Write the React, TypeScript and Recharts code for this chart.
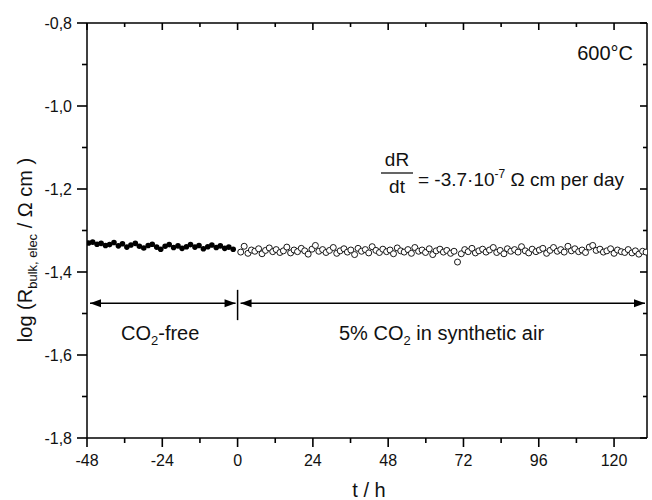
import React from "react";
import { ScatterChart, Scatter, XAxis, YAxis, ReferenceLine } from "recharts";

// CO2-free period (filled dots)
const freeTime = [
  -47.5, -46.2, -44.8, -43.5, -42.1, -40.8, -39.4, -38.0, -36.7, -35.3, -34.0, -32.6,
  -31.3, -29.9, -28.5, -27.2, -25.8, -24.5, -23.1, -21.8, -20.4, -19.0, -17.7, -16.3,
  -15.0, -13.6, -12.3, -10.9, -9.5, -8.2, -6.8, -5.5, -4.1, -2.8, -1.4,
];
const freeLogR = [
  -1.330, -1.328, -1.333, -1.331, -1.336, -1.334, -1.329, -1.337, -1.332, -1.340, -1.335, -1.331,
  -1.338, -1.342, -1.336, -1.333, -1.340, -1.345, -1.338, -1.334, -1.341, -1.337, -1.343, -1.339,
  -1.334, -1.340, -1.336, -1.344, -1.339, -1.335, -1.341, -1.337, -1.343, -1.340, -1.345,
];

// 5% CO2 in synthetic air (open dots)
const airTime = [
  1.0, 2.1, 3.3, 4.4, 5.5, 6.7, 7.8, 8.9, 10.1, 11.2, 12.3, 13.5, 14.6, 15.7, 16.9, 18.0,
  19.1, 20.3, 21.4, 22.5, 23.7, 24.8, 25.9, 27.1, 28.2, 29.3, 30.5, 31.6, 32.7, 33.9, 35.0,
  36.1, 37.3, 38.4, 39.5, 40.7, 41.8, 42.9, 44.1, 45.2, 46.3, 47.5, 48.6, 49.7, 50.9, 52.0,
  53.1, 54.3, 55.4, 56.5, 57.7, 58.8, 59.9, 61.1, 62.2, 63.3, 64.5, 65.6, 66.7, 67.9, 69.0,
  70.1, 71.3, 72.4, 73.5, 74.7, 75.8, 76.9, 78.1, 79.2, 80.3, 81.5, 82.6, 83.7, 84.9, 86.0,
  87.1, 88.3, 89.4, 90.5, 91.7, 92.8, 93.9, 95.1, 96.2, 97.3, 98.5, 99.6, 100.7, 101.9, 103.0,
  104.1, 105.3, 106.4, 107.5, 108.7, 109.8, 110.9, 112.1, 113.2, 114.3, 115.5, 116.6, 117.7,
  118.9, 120.0, 121.1, 122.3, 123.4, 124.5, 125.7, 126.8, 127.9, 129.1, 130.2,
];
const airLogR = [
  -1.352, -1.338, -1.355, -1.347, -1.350, -1.344, -1.356, -1.348, -1.342, -1.351,
  -1.346, -1.353, -1.349, -1.340, -1.354, -1.347, -1.351, -1.343, -1.349, -1.357,
  -1.345, -1.336, -1.350, -1.346, -1.353, -1.348, -1.341, -1.355, -1.349, -1.344,
  -1.352, -1.347, -1.358, -1.343, -1.350, -1.346, -1.354, -1.339, -1.348, -1.353,
  -1.345, -1.351, -1.347, -1.356, -1.342, -1.349, -1.352, -1.346, -1.355, -1.341,
  -1.350, -1.347, -1.353, -1.344, -1.358, -1.349, -1.345, -1.352, -1.348, -1.355,
  -1.350, -1.376, -1.356, -1.346, -1.351, -1.343, -1.354, -1.349, -1.345, -1.352,
  -1.347, -1.341, -1.353, -1.348, -1.356, -1.344, -1.350, -1.346, -1.352, -1.339,
  -1.349, -1.354, -1.345, -1.351, -1.347, -1.343, -1.355, -1.348, -1.341, -1.350,
  -1.346, -1.352, -1.338, -1.349, -1.344, -1.351, -1.347, -1.353, -1.340, -1.336,
  -1.348, -1.345, -1.352, -1.349, -1.344, -1.355, -1.347, -1.351, -1.353, -1.346,
  -1.354, -1.349, -1.357, -1.350, -1.352, -1.355,
];

const xMajor = [-48, -24, 0, 24, 48, 72, 96, 120];
const xMinor = [-36, -12, 12, 36, 60, 84, 108];
const yMajor = [-0.8, -1.0, -1.2, -1.4, -1.6, -1.8];
const yMinor = [-0.9, -1.1, -1.3, -1.5, -1.7];

const xDomain = [-48, 130.5];
const yDomain = [-1.8, -0.8];
const arrowLevel = -1.475;
const dividerTop = -1.443;
const dividerBottom = -1.516;

const freeData = freeTime.map((t, i) => ({ t, v: freeLogR[i] }));
const airData = airTime.map((t, i) => ({ t, v: airLogR[i] }));

const FONT = '"Liberation Sans", Arial, sans-serif';

// plot box is 560 x 415 px; used to turn tick lengths (px) into data units
const X_PER_PX = (xDomain[1] - xDomain[0]) / 560;
const Y_PER_PX = (yDomain[1] - yDomain[0]) / 415;

function BottomLabel({ x, y, payload }: any) {
  if (!xMajor.includes(payload.value)) return <g />;
  return (
    <text x={x} y={y + 28} textAnchor="middle" fontSize={16} fontFamily={FONT} fill="#111">
      {payload.value}
    </text>
  );
}

function LeftLabel({ x, y, payload }: any) {
  if (!yMajor.includes(payload.value)) return <g />;
  return (
    <text x={x - 15} y={y + 6} textAnchor="end" fontSize={16} fontFamily={FONT} fill="#111">
      {payload.value.toFixed(1).replace(".", ",")}
    </text>
  );
}

const NoLabel = () => <g />;

function DoubleArrow(props: any) {
  const { x1, x2, y1 } = props;
  const a = x1 + 3;
  const b = x2 - 2;
  const len = 11;
  const hw = 4;
  return (
    <g>
      <line x1={a} x2={b} y1={y1} y2={y1} stroke="#000" strokeWidth={1.5} />
      <path d={`M${a},${y1} L${a + len},${y1 - hw} L${a + len},${y1 + hw} Z`} fill="#000" />
      <path d={`M${b},${y1} L${b - len},${y1 - hw} L${b - len},${y1 + hw} Z`} fill="#000" />
    </g>
  );
}

const FilledDot = (p: any) => <circle cx={p.cx} cy={p.cy} r={2.8} fill="#000" />;
const OpenDot = (p: any) => (
  <circle cx={p.cx} cy={p.cy} r={3} fill="#fff" stroke="#000" strokeWidth={0.9} />
);

const axisLine = { stroke: "#000", strokeWidth: 1.5 };

function tickMarks() {
  const out: any[] = [];
  const xs = [...xMajor.map((v) => [v, true]), ...xMinor.map((v) => [v, false])] as [number, boolean][];
  const ys = [...yMajor.map((v) => [v, true]), ...yMinor.map((v) => [v, false])] as [number, boolean][];
  xs.forEach(([v, major]) => {
    out.push(
      <ReferenceLine
        key={`b${v}`}
        ifOverflow="visible"
        segment={[{ x: v, y: yDomain[0] }, { x: v, y: yDomain[0] - (major ? 9 : 5) * Y_PER_PX }]}
        stroke="#000"
        strokeWidth={1.6}
      />,
      <ReferenceLine
        key={`t${v}`}
        ifOverflow="visible"
        segment={[{ x: v, y: yDomain[1] }, { x: v, y: yDomain[1] - (major ? 7 : 4) * Y_PER_PX }]}
        stroke="#000"
        strokeWidth={1.6}
      />
    );
  });
  ys.forEach(([v, major]) => {
    out.push(
      <ReferenceLine
        key={`l${v}`}
        ifOverflow="visible"
        segment={[{ x: xDomain[0], y: v }, { x: xDomain[0] - (major ? 10 : 5) * X_PER_PX, y: v }]}
        stroke="#000"
        strokeWidth={1.6}
      />,
      <ReferenceLine
        key={`r${v}`}
        ifOverflow="visible"
        segment={[{ x: xDomain[1], y: v }, { x: xDomain[1] - (major ? 7 : 4) * X_PER_PX, y: v }]}
        stroke="#000"
        strokeWidth={1.6}
      />
    );
  });
  return out;
}

export default function App() {
  return (
    <div style={{ position: "absolute", left: 0, top: 0, width: 652, height: 500, background: "#fff" }}>
      <ScatterChart width={652} height={500} margin={{ top: 22, right: 4, bottom: 22, left: 27 }}>
        <XAxis
          dataKey="t"
          type="number"
          domain={xDomain}
          allowDataOverflow
          ticks={[...xMajor, ...xMinor]}
          height={40}
          tickSize={0}
          tickMargin={0}
          tickLine={false}
          tick={<BottomLabel />}
          axisLine={axisLine}
          interval={0}
        />
        <XAxis
          xAxisId="top"
          orientation="top"
          type="number"
          domain={xDomain}
          allowDataOverflow
          height={1}
          tickLine={false}
          tick={<NoLabel />}
          axisLine={axisLine}
        />
        <YAxis
          dataKey="v"
          type="number"
          domain={yDomain}
          allowDataOverflow
          ticks={[...yMajor, ...yMinor]}
          width={60}
          tickSize={0}
          tickMargin={0}
          tickLine={false}
          tick={<LeftLabel />}
          axisLine={axisLine}
          interval={0}
        />
        <YAxis
          yAxisId="right"
          orientation="right"
          type="number"
          domain={yDomain}
          allowDataOverflow
          width={1}
          tickLine={false}
          tick={<NoLabel />}
          axisLine={axisLine}
        />
        {tickMarks()}
        <ReferenceLine
          segment={[{ x: xDomain[0], y: arrowLevel }, { x: 0, y: arrowLevel }]}
          shape={DoubleArrow}
        />
        <ReferenceLine
          segment={[{ x: 0, y: arrowLevel }, { x: xDomain[1], y: arrowLevel }]}
          shape={DoubleArrow}
        />
        <ReferenceLine
          segment={[{ x: 0, y: dividerTop }, { x: 0, y: dividerBottom }]}
          stroke="#000"
          strokeWidth={1.5}
        />
        <Scatter data={freeData} shape={FilledDot} isAnimationActive={false} />
        <Scatter data={airData} shape={OpenDot} isAnimationActive={false} />
      </ScatterChart>
      <svg
        width={652}
        height={500}
        style={{ position: "absolute", left: 0, top: 0, pointerEvents: "none" }}
        fontFamily={FONT}
        fill="#111"
      >
        <text x={633} y={60} fontSize={20} textAnchor="end">600°C</text>
        <text x={397} y={166} fontSize={19} textAnchor="middle">dR</text>
        <line x1={381} x2={413} y1={173} y2={173} stroke="#111" strokeWidth={1.3} />
        <text x={397} y={193} fontSize={19} textAnchor="middle">dt</text>
        <text x={418} y={186} fontSize={19}>
          = -3.7·10
          <tspan fontSize={12} dy={-8}>-7</tspan>
          <tspan dy={8}> Ω cm per day</tspan>
        </text>
        <text x={121} y={340} fontSize={20}>
          CO<tspan fontSize={13} dy={5}>2</tspan>
          <tspan dy={-5}>-free</tspan>
        </text>
        <text x={339} y={340} fontSize={20}>
          5% CO<tspan fontSize={13} dy={5}>2</tspan>
          <tspan dy={-5}> in synthetic air</tspan>
        </text>
        <text x={369} y={497} fontSize={20} textAnchor="middle">t / h</text>
        <text x={32} y={250} fontSize={20} textAnchor="middle" transform="rotate(-90, 32, 250)">
          log (R<tspan fontSize={13} dy={5}>bulk, elec</tspan>
          <tspan dy={-5}> / Ω cm )</tspan>
        </text>
      </svg>
    </div>
  );
}
